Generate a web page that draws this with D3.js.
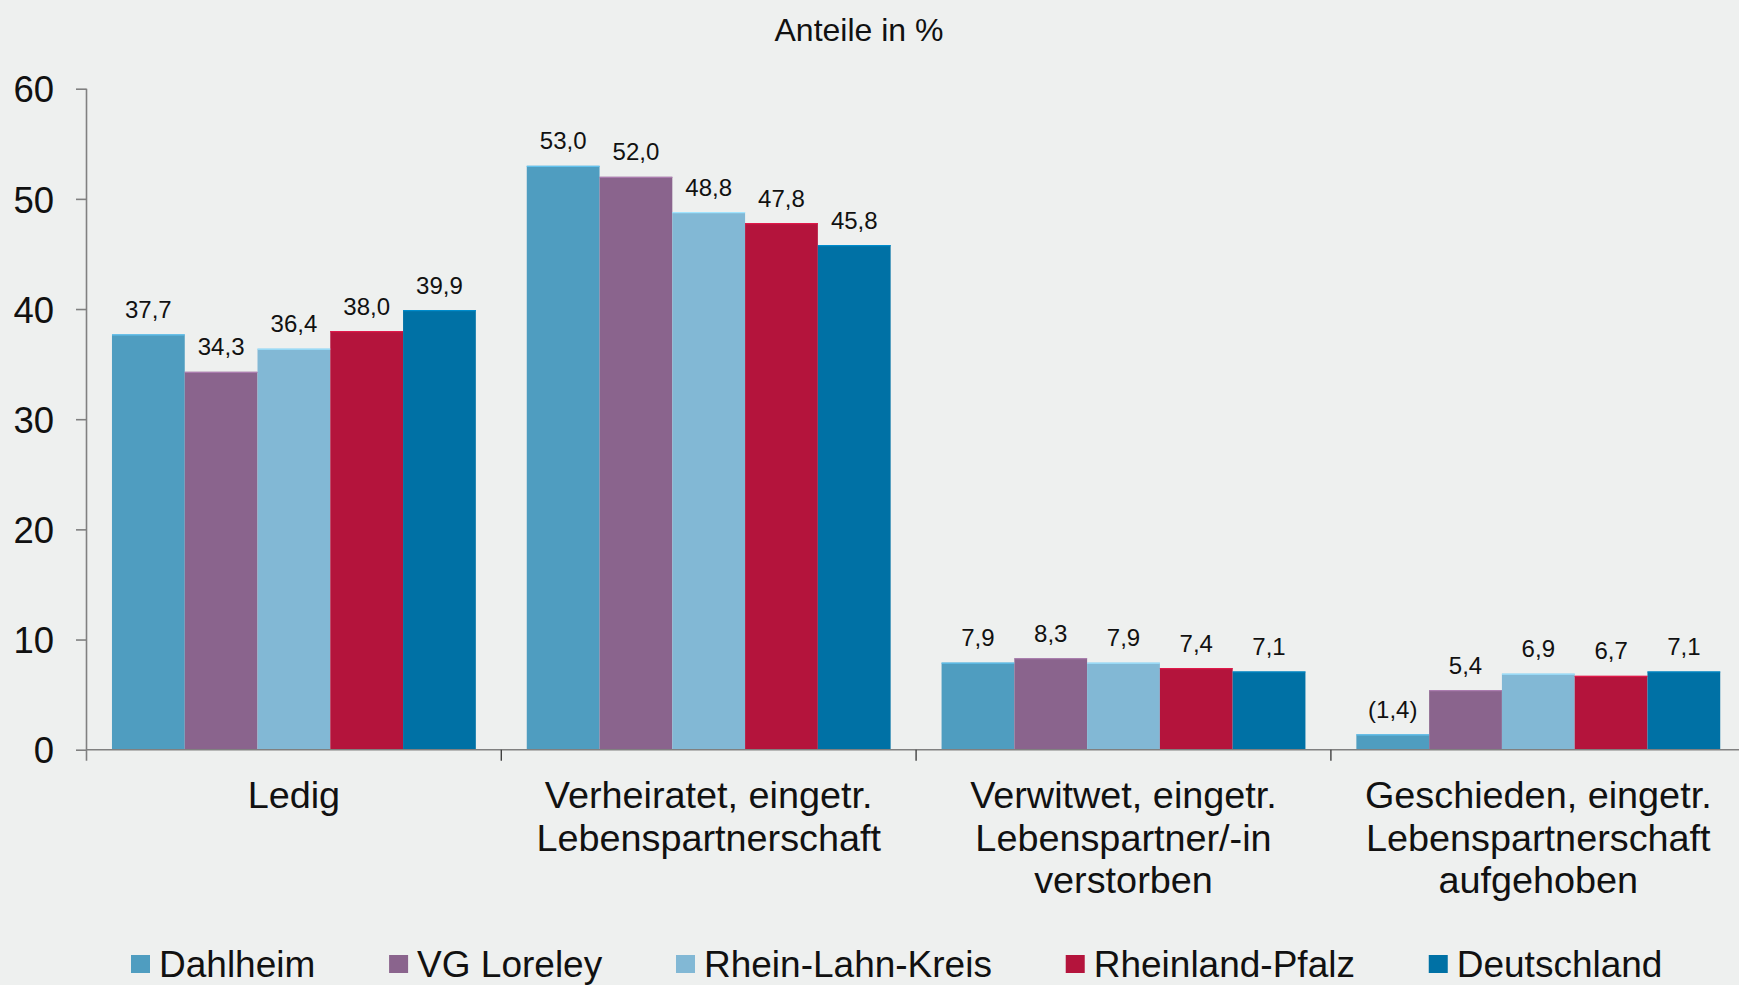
<!DOCTYPE html>
<html>
<head>
<meta charset="utf-8">
<script src="https://cdn.jsdelivr.net/npm/d3@7"></script>
<style>
  html, body { margin: 0; padding: 0; background: #eef0ef; }
  svg { display: block; font-family: "Liberation Sans", Arial, sans-serif; }
</style>
</head>
<body>
<div class="chart"></div>
<script>
// categories (multi-line labels) and series
const categories = ["Ledig", "Verheiratet", "Verwitwet", "Geschieden"]
const categoryLines = [
  ["Ledig"],
  ["Verheiratet, eingetr.", "Lebenspartnerschaft"],
  ["Verwitwet, eingetr.", "Lebenspartner/-in", "verstorben"],
  ["Geschieden, eingetr.", "Lebenspartnerschaft", "aufgehoben"]
]
const series = ["Dahlheim", "VG Loreley", "Rhein-Lahn-Kreis", "Rheinland-Pfalz", "Deutschland"]
const colors = ["#4f9dc0", "#8a648d", "#82b8d5", "#b4143c", "#0071a5"]

const dahlheim = [37.7, 53.0, 7.9, 1.4]
const vgLoreley = [34.3, 52.0, 8.3, 5.4]
const rheinLahnKreis = [36.4, 48.8, 7.9, 6.9]
const rheinlandPfalz = [38.0, 47.8, 7.4, 6.7]
const deutschland = [39.9, 45.8, 7.1, 7.1]
const values = [dahlheim, vgLoreley, rheinLahnKreis, rheinlandPfalz, deutschland]

// values shown in brackets (small sample): [series index, category index]
const bracketed = [[0, 3]]

const yTicks = [0, 10, 20, 30, 40, 50, 60]

const W = 1739, H = 985
const mLeft = 86.5, mRight = 1745.7, mTop = 88.7, mBottom = 749.7

let svg = d3.select('.chart')
  .append('svg')
  .attr('width', W)
  .attr('height', H)

svg.append('rect').attr('width', W).attr('height', H).attr('fill', '#eef0ef')

let x0 = d3.scaleBand()
  .domain(categories)
  .range([mLeft, mRight])

let x1 = d3.scaleBand()
  .domain(series)
  .range([0, x0.bandwidth()])
  .paddingOuter(0.35)

let y = d3.scaleLinear()
  .domain([0, 60])
  .range([mBottom, mTop])

const fmt = v => d3.format('.1f')(v).replace('.', ',')

// title
svg.append('text')
  .attr('x', 859)
  .attr('y', 40.5)
  .attr('text-anchor', 'middle')
  .attr('font-size', 32)
  .attr('fill', '#111')
  .text('Anteile in %')

// bars
let rows = []
series.forEach((s, si) => {
  categories.forEach((c, ci) => {
    rows.push({ s, si, c, ci, v: values[si][ci] })
  })
})

let bars = svg.append('g').selectAll('rect')
  .data(rows)
  .enter()
  .append('rect')
  .attr('x', d => x0(d.c) + x1(d.s))
  .attr('y', d => y(d.v))
  .attr('width', x1.bandwidth())
  .attr('height', d => y(0) - y(d.v))
  .attr('fill', d => colors[d.si])

// thin light edge on bar tops
svg.append('g').selectAll('line')
  .data(rows)
  .enter()
  .append('line')
  .attr('x1', d => x0(d.c) + x1(d.s))
  .attr('x2', d => x0(d.c) + x1(d.s) + x1.bandwidth())
  .attr('y1', d => y(d.v) + 0.5)
  .attr('y2', d => y(d.v) + 0.5)
  .attr('stroke', d => d3.color(colors[d.si]).brighter(0.6))
  .attr('stroke-width', 1.2)

// value labels
svg.append('g').selectAll('text')
  .data(rows)
  .enter()
  .append('text')
  .attr('x', d => x0(d.c) + x1(d.s) + x1.bandwidth() / 2)
  .attr('y', d => y(d.v) - 16.5)
  .attr('text-anchor', 'middle')
  .attr('font-size', 24)
  .attr('fill', '#111')
  .text(d => {
    let isB = bracketed.some(b => b[0] === d.si && b[1] === d.ci)
    return isB ? '(' + fmt(d.v) + ')' : fmt(d.v)
  })

// y axis
let yAxis = svg.append('g')
  .attr('transform', `translate(${mLeft},0)`)
  .call(d3.axisLeft(y).tickValues(yTicks).tickSize(10.5).tickPadding(22).tickSizeOuter(0))

yAxis.select('.domain').remove()
yAxis.selectAll('.tick line').attr('stroke', '#808080').attr('stroke-width', 1.6)
yAxis.selectAll('.tick text')
  .attr('font-size', 36.5)
  .attr('font-family', '"Liberation Sans", Arial, sans-serif')
  .attr('fill', '#111')
  .attr('dy', '0.36em')

// axis lines
svg.append('line')
  .attr('x1', mLeft).attr('x2', mLeft)
  .attr('y1', mTop).attr('y2', mBottom + 11)
  .attr('stroke', '#808080').attr('stroke-width', 1.6)

svg.append('line')
  .attr('x1', mLeft).attr('x2', W)
  .attr('y1', mBottom).attr('y2', mBottom)
  .attr('stroke', '#808080').attr('stroke-width', 1.6)

// group separators
svg.append('g').selectAll('line')
  .data(categories.slice(1))
  .enter()
  .append('line')
  .attr('x1', d => x0(d)).attr('x2', d => x0(d))
  .attr('y1', mBottom).attr('y2', mBottom + 11)
  .attr('stroke', '#404040').attr('stroke-width', 1.4)

// category labels
let catLabels = svg.append('g').selectAll('text')
  .data(categories)
  .enter()
  .append('text')
  .attr('text-anchor', 'middle')
  .attr('font-size', 37.8)
  .attr('fill', '#111')

catLabels.each(function(c, i) {
  let t = d3.select(this)
  categoryLines[i].forEach((line, li) => {
    t.append('tspan')
      .attr('x', x0(c) + x0.bandwidth() / 2)
      .attr('y', 808 + li * 42.5)
      .text(line)
  })
})

// legend
let lx = 131
let legend = svg.append('g')
series.forEach((s, si) => {
  legend.append('rect')
    .attr('x', lx)
    .attr('y', 955)
    .attr('width', 19)
    .attr('height', 18)
    .attr('fill', colors[si])
  let t = legend.append('text')
    .attr('x', lx + 28)
    .attr('y', 976.5)
    .attr('font-size', 37)
    .attr('fill', '#111')
    .text(s)
  lx = lx + 28 + t.node().getComputedTextLength() + 73.8
})
</script>
</body>
</html>
